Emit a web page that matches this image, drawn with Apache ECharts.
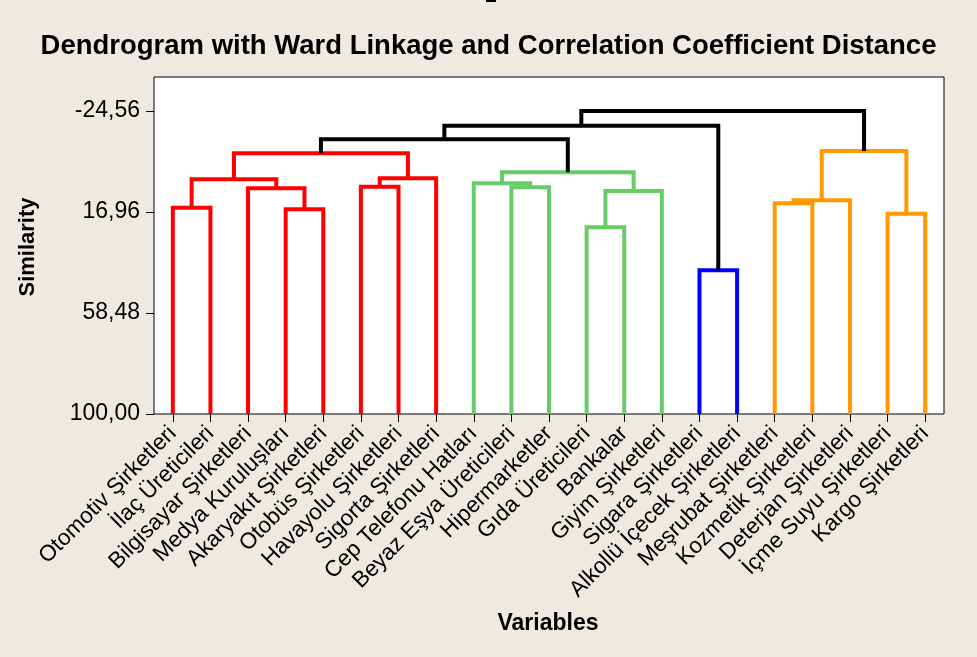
<!DOCTYPE html>
<html>
<head>
<meta charset="utf-8">
<script src="https://cdn.jsdelivr.net/npm/echarts@6/dist/echarts.min.js"></script>
<style>
html,body{margin:0;padding:0;background:#EEEAE1;}
#chart{width:977px;height:657px;}
</style>
</head>
<body>
<div id="chart"></div>
<script>
// Leaves (variables) in dendrogram order
var leaves = [
  'Otomotiv Şirketleri', 'İlaç Üreticileri', 'Bilgisayar Şirketleri', 'Medya Kuruluşları',
  'Akaryakıt Şirketleri', 'Otobüs Şirketleri', 'Havayolu Şirketleri', 'Sigorta Şirketleri',
  'Cep Telefonu Hatları', 'Beyaz Eşya Üreticileri', 'Hipermarketler', 'Gıda Üreticileri',
  'Bankalar', 'Giyim Şirketleri', 'Sigara Şirketleri', 'Alkollü İçecek Şirketleri',
  'Meşrubat Şirketleri', 'Kozmetik Şirketleri', 'Deterjan Şirketleri', 'İçme Suyu Şirketleri',
  'Kargo Şirketleri'
];
// Merge steps: node ids 0..20 are leaves, merge k creates node 21+k
var mergeA   = [0, 3, 2, 21, 5, 25, 24, 9, 8, 11, 30, 29, 14, 16, 34, 19, 35, 27, 38, 39];
var mergeB   = [1, 4, 22, 23, 6, 7, 26, 10, 28, 12, 13, 31, 15, 17, 18, 20, 36, 32, 33, 37];
var mergeSim = [15.2, 15.85, 7.2, 3.5, 6.55, 3.1, -7.17, 6.8, 5.15, 23.25, 8.33, 0.64, 40.93, 13.4, 12.15, 17.65, -8.1, -12.93, -18.5, -24.56];
var mergeGroup = ['red','red','red','red','red','red','red','green','green','green','green','green','blue','orange','orange','orange','orange','black','black','black'];
var yTicks = [-24.56, 16.96, 58.48, 100];
var leafSim = 100;

var groupColors = {red:'#FF0000', green:'#66CC66', blue:'#0000FF', orange:'#FF9900', black:'#000000'};

// node positions (in leaf-index units) and heights
var nodePos = leaves.map(function(_, i){ return i; });
var nodeSim = leaves.map(function(){ return leafSim; });
for (var k = 0; k < mergeA.length; k++) {
  nodePos.push((nodePos[mergeA[k]] + nodePos[mergeB[k]]) / 2);
  nodeSim.push(mergeSim[k]);
}

var fmt = function(v){ return Number(v).toFixed(2).replace('.', ','); };
var FONT = 'Arial, "Liberation Sans", sans-serif';

var chart = echarts.init(document.getElementById('chart'));
chart.setOption({
  backgroundColor: '#EEEAE1',
  animation: false,
  title: {
    text: 'Dendrogram with Ward Linkage and Correlation Coefficient Distance',
    left: 'center', top: 27,
    textStyle: {fontFamily: FONT, fontSize: 27.5, fontWeight: 'bold', color: '#000'}
  },
  grid: {
    left: 154, top: 77, width: 790, height: 337,
    show: true, backgroundColor: '#FFFFFF', borderColor: '#000', borderWidth: 1
  },
  xAxis: {
    type: 'category', data: leaves, boundaryGap: true, position: 'bottom',
    axisLine: {show: false, onZero: false},
    axisTick: {show: true, alignWithLabel: true, interval: 0, length: 8, lineStyle: {color: '#000'}},
    axisLabel: {interval: 0, rotate: 45, margin: 16, color: '#000', fontFamily: FONT, fontSize: 22.5},
    splitLine: {show: false}
  },
  yAxis: {
    type: 'value', inverse: true, min: -38.54, max: 100,
    axisLine: {show: false},
    axisTick: {show: true, length: 8, customValues: yTicks, lineStyle: {color: '#000'}},
    axisLabel: {customValues: yTicks, formatter: fmt, color: '#000', fontFamily: FONT, fontSize: 23, margin: 14},
    splitLine: {show: false}
  },
  graphic: [
    {type: 'rect', shape: {x: 486, y: 0, width: 10, height: 2}, style: {fill: '#000'}},
    {type: 'text', x: 28, y: 247, rotation: Math.PI / 2,
     style: {text: 'Similarity', fontFamily: FONT, fontSize: 22, fontWeight: 'bold', fill: '#000', align: 'center', verticalAlign: 'middle'}},
    {type: 'text', x: 548, y: 624,
     style: {text: 'Variables', fontFamily: FONT, fontSize: 23, fontWeight: 'bold', fill: '#000', align: 'center', verticalAlign: 'middle'}}
  ],
  series: [{
    type: 'custom',
    clip: false,
    data: mergeA.map(function(_, k){ return [k]; }),
    encode: {x: -1, y: -1},
    renderItem: function(params, api){
      var k = api.value(0);
      var a = mergeA[k], b = mergeB[k];
      var p0 = api.coord([0, leafSim]), p1 = api.coord([1, leafSim]);
      var step = p1[0] - p0[0];
      function px(pos){ return p0[0] + pos * step; }
      function py(s){ return api.coord([0, s])[1]; }
      var pts = [
        [px(nodePos[a]), py(nodeSim[a])],
        [px(nodePos[a]), py(mergeSim[k])],
        [px(nodePos[b]), py(mergeSim[k])],
        [px(nodePos[b]), py(nodeSim[b])]
      ];
      return {
        type: 'polyline',
        shape: {points: pts},
        style: {stroke: groupColors[mergeGroup[k]], lineWidth: 4, fill: null, lineJoin: 'miter'}
      };
    }
  }]
});
</script>
</body>
</html>
